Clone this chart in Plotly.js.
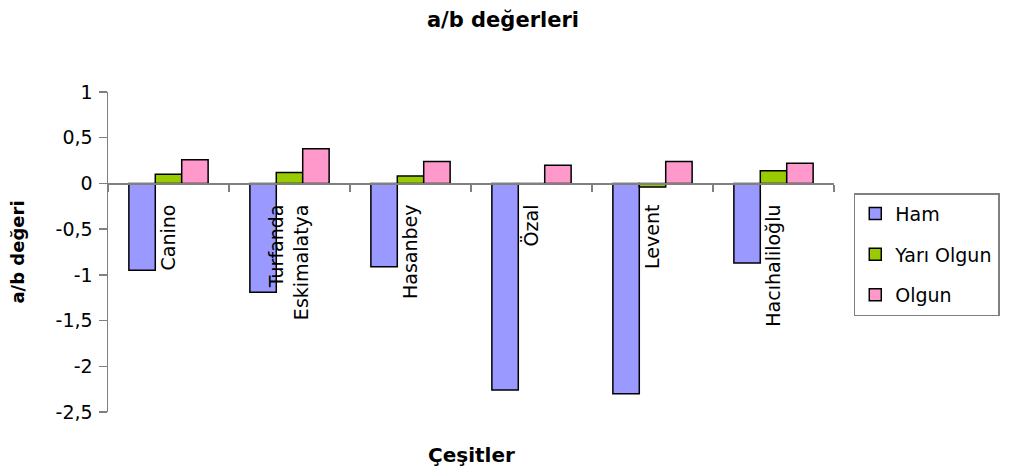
<!DOCTYPE html>
<html>
<head>
<meta charset="utf-8">
<script src="https://cdn.plot.ly/plotly-3.0.1.min.js"></script>
<style>html,body{margin:0;padding:0;background:#fff;}#chart{width:1012px;height:472px;}</style>
</head>
<body>
<div id="chart"></div>
<script>
const categories = ["Canino", "Turfanda<br>Eskimalatya", "Hasanbey", "Özal", "Levent", "Hacıhaliloğlu"];
const ham = [-0.95, -1.19, -0.91, -2.26, -2.30, -0.87];
const yariOlgun = [0.10, 0.12, 0.08, 0.0, -0.04, 0.14];
const olgun = [0.26, 0.38, 0.24, 0.20, 0.24, 0.22];
const seriesNames = ["Ham", "Yarı Olgun", "Olgun"];
const yTickVals = [1, 0.5, 0, -0.5, -1, -1.5, -2, -2.5];
const yTickText = ["1", "0,5", "0", "-0,5", "-1", "-1,5", "-2", "-2,5"];
const yRange = [-2.5, 1];

const FONT = "DejaVu Sans, Liberation Sans, Arial, sans-serif";
const colors = ["#9999FF", "#99CC00", "#FF99CC"];
const seriesData = [ham, yariOlgun, olgun];

const traces = seriesData.map((vals, i) => ({
  type: "bar",
  name: seriesNames[i],
  x: categories,
  y: vals,
  legendgroup: "g" + i,
  marker: {color: colors[i], line: {color: "#000", width: 1.5}},
  hoverinfo: "skip"
}));

const zeroPos = (0 - yRange[0]) / (yRange[1] - yRange[0]);

const layout = {
  width: 1012, height: 472,
  margin: {l: 108, r: 170, t: 92, b: 60},
  paper_bgcolor: "#fff", plot_bgcolor: "#fff",
  font: {family: FONT, size: 19, color: "#000"},
  barmode: "group",
  bargap: 0.345,
  bargroupgap: 0,
  showlegend: true,
  title: {text: "<b>a/b değerleri</b>", font: {family: FONT, size: 21, color: "#000"},
          x: 0.497, xanchor: "center", y: 0.958, yanchor: "middle"},
  xaxis: {
    type: "category",
    anchor: "free", position: zeroPos,
    showline: true, linecolor: "#808080", linewidth: 1.5,
    ticks: "outside", tickson: "boundaries", ticklen: 7, tickcolor: "#808080", tickwidth: 1.5,
    tickangle: -90, ticklabelstandoff: 12,
    tickfont: {family: FONT, size: 19, color: "#000"},
    showgrid: false, zeroline: false, fixedrange: true
  },
  yaxis: {
    range: yRange,
    tickvals: yTickVals, ticktext: yTickText,
    showline: true, linecolor: "#808080", linewidth: 1.5,
    ticks: "outside", ticklen: 8, tickcolor: "#808080", tickwidth: 1.5,
    ticklabelstandoff: 2,
    tickfont: {family: FONT, size: 19, color: "#000"},
    showgrid: false, zeroline: false,
    title: {text: "<b>a/b değeri</b>", font: {family: FONT, size: 18, color: "#000"}, standoff: 26}
  },
  legend: {
    x: (862 - 108) / 734, xanchor: "left",
    y: (412.3 - 193) / 320.6, yanchor: "top",
    bordercolor: "#808080", borderwidth: 1.5,
    bgcolor: "#fff",
    font: {family: FONT, size: 19, color: "#000"},
    tracegroupgap: 13,
    traceorder: "grouped"
  },
  annotations: [{
    text: "<b>Çeşitler</b>", xref: "paper", yref: "paper",
    x: 0.5, y: -0.135, xanchor: "center", yanchor: "middle", showarrow: false,
    font: {family: FONT, size: 20, color: "#000"}
  }]
};

Plotly.newPlot("chart", traces, layout, {displayModeBar: false, staticPlot: true});
</script>
</body>
</html>
